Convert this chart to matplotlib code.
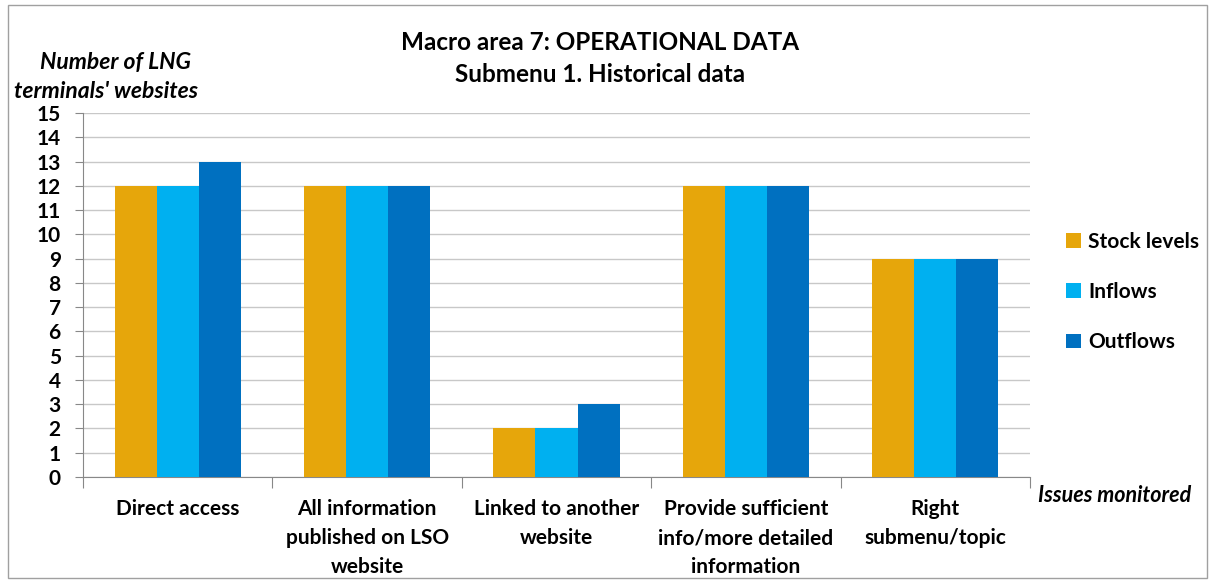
import matplotlib.pyplot as plt
import numpy as np
from matplotlib.patches import Rectangle

# data
categories = ["Direct access", "All information\npublished on LSO\nwebsite",
              "Linked to another\nwebsite", "Provide sufficient\ninfo/more detailed\ninformation",
              "Right\nsubmenu/topic"]
stock_levels = [12, 12, 2, 12, 9]
inflows = [12, 12, 2, 12, 9]
outflows = [13, 12, 3, 12, 9]
series_names = ["Stock levels", "Inflows", "Outflows"]
colors = ["#E6A60B", "#00B0F0", "#0070C0"]

plt.rcParams['font.family'] = ['Lato', 'DejaVu Sans']

fig = plt.figure(figsize=(12.09, 5.81), dpi=100)
ax = fig.add_axes([83/1209, 1-477/581, (1030-83)/1209, (477-113)/581])

x = np.arange(len(categories))
w = 0.222
for i, vals in enumerate([stock_levels, inflows, outflows]):
    ax.bar(x + (i-1)*w, vals, width=w, color=colors[i], label=series_names[i], zorder=3)

ax.set_xlim(-0.5, len(categories)-0.5)
ax.set_ylim(0, 15)
ax.set_yticks(range(0, 16))
ax.set_yticklabels([str(v) for v in range(0, 16)], fontsize=15, fontweight='bold')
ax.grid(axis='y', color='#c8c8c8', linewidth=1, zorder=0)

# category labels between boundary ticks
ax.set_xticks(np.arange(-0.5, len(categories)), minor=False)
ax.set_xticklabels([])
ax.tick_params(axis='x', length=8, color='#888888')
ax.tick_params(axis='y', length=6, color='#888888', pad=10)
for xi, lab in zip(x, categories):
    ax.text(xi, -0.92, lab, ha='center', va='top', fontsize=15, fontweight='bold',
            linespacing=1.56)

for s in ['top', 'right']:
    ax.spines[s].set_visible(False)
for s in ['left', 'bottom']:
    ax.spines[s].set_color('#888888')

fig.text(600/1209, 1-42/581, "Macro area 7: OPERATIONAL DATA", ha='center', va='center',
         fontsize=17.5, fontweight='bold')
fig.text(600/1209, 1-75/581, "Submenu 1. Historical data", ha='center', va='center',
         fontsize=17.5, fontweight='bold')
fig.text(116/1209, 1-62/581, "Number of LNG", ha='center', va='center',
         fontsize=16.5, fontweight='bold', style='italic')
fig.text(106/1209, 1-92/581, "terminals' websites", ha='center', va='center',
         fontsize=16.5, fontweight='bold', style='italic')
fig.text(1115/1209, 1-496/581, "Issues monitored", ha='center', va='center',
         fontsize=15.5, fontweight='bold', style='italic')

leg = fig.legend(loc='center left', bbox_to_anchor=(1066/1209, 1-292/581), frameon=False,
                 prop={'size': 15, 'weight': 'bold'}, handlelength=0.7, handleheight=0.7,
                 handletextpad=0.35, labelspacing=1.45, borderpad=0, borderaxespad=0)

fig.patches.append(Rectangle((8/1209, 3/581), 1-10/1209, 1-8/581, transform=fig.transFigure,
                             fill=False, edgecolor='#a0a0a0', linewidth=1))

fig.savefig("out.png", dpi=100)
